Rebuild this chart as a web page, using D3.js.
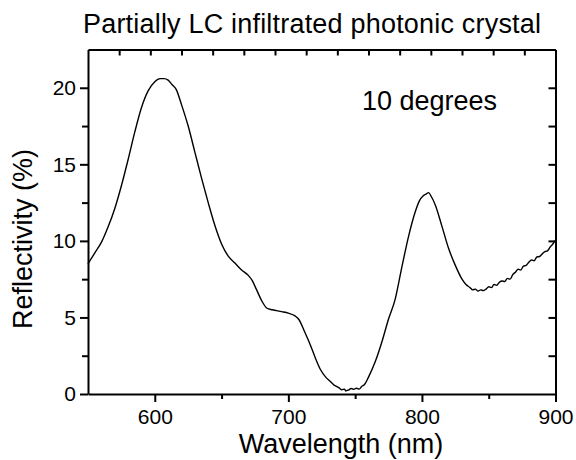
<!DOCTYPE html>
<html lang="en">
<head>
  <meta charset="UTF-8">
  <script src="https://cdn.jsdelivr.net/npm/d3@7"></script>
  <style>
    body { margin: 0; background: #fff; }
    svg { display: block; }
  </style>
</head>
<body>
<svg width="576" height="460"></svg>
<script>
  // wavelength (nm)
  const wavelength = [
    550, 555, 560, 565, 570, 575, 580, 585, 590, 595,
    600, 604, 607, 610, 613, 616, 620, 625, 630, 635,
    640, 645, 650, 655, 660, 665, 670, 673, 676, 680,
    684, 688, 695, 700, 705, 708, 712, 716, 720, 724,
    728, 731, 734, 736, 738, 740, 742, 743, 745, 747,
    749, 751, 753, 755, 757, 760, 765, 770, 775, 780,
    785, 790, 795, 798, 801, 803, 805, 807, 810, 815,
    820, 825, 830, 833, 836, 838, 840, 842, 844, 846,
    848, 850, 852, 854, 856, 858, 860, 862, 864, 866,
    868, 870, 872, 874, 876, 878, 880, 882, 884, 886,
    888, 890, 892, 894, 896, 898, 900
  ];
  // reflectivity (%)
  const reflectivity = [
    8.5, 9.2, 9.9, 10.9, 12.1, 13.6, 15.3, 17.1, 18.7, 19.8,
    20.4, 20.6, 20.6, 20.5, 20.2, 19.9, 18.9, 17.5, 15.8, 14.1,
    12.5, 11.0, 9.8, 9.0, 8.55, 8.1, 7.75, 7.4, 6.85, 6.1,
    5.6, 5.5, 5.38, 5.28, 5.1, 4.85, 4.1, 3.3, 2.4, 1.6,
    1.1, 0.85, 0.6, 0.5, 0.4, 0.28, 0.32, 0.2, 0.26, 0.36,
    0.3, 0.38, 0.32, 0.5, 0.62, 1.1, 2.1, 3.4, 4.9, 6.2,
    8.3, 10.3, 11.9, 12.6, 12.95, 13.05, 13.15, 12.9, 12.35, 10.95,
    9.5, 8.4, 7.5, 7.15, 6.95, 6.8, 6.85, 6.72, 6.8, 6.75,
    6.85, 7.0, 6.95, 7.15, 7.1, 7.3, 7.38, 7.35, 7.55, 7.5,
    7.8, 7.95, 8.15, 8.1, 8.35, 8.4, 8.6, 8.75, 8.7, 8.95,
    8.98, 9.15, 9.3, 9.35, 9.6, 9.8, 10.05
  ];
  const xMajor = [600, 700, 800, 900];
  const xMinor = [650, 750, 850];
  const yMajor = [0, 5, 10, 15, 20];
  const yMinor = [2.5, 7.5, 12.5, 17.5];
  const topTicks = d3.range(1, 15); // top frame: 15 equal divisions
  const rightTicks = [2.5, 5, 7.5, 10, 12.5, 15, 17.5, 20];

  const font = '"Liberation Sans", Arial, sans-serif';
  const svg = d3.select('svg');
  const m = { left: 88, right: 555.5, top: 49.5, bottom: 394 };

  const x = d3.scaleLinear().domain([550, 900]).range([m.left, m.right]);
  const y = d3.scaleLinear().domain([0, 22.5]).range([m.bottom, m.top]);
  const xTop = d3.scaleLinear().domain([0, 15]).range([m.left, m.right]);

  // give every axis piece explicit attributes instead of relying on css
  function styleAxis(g) {
    g.selectAll('path.domain').attr('stroke', '#000').attr('stroke-width', 2).attr('fill', 'none');
    g.selectAll('.tick line').attr('stroke', '#000').attr('stroke-width', 2).attr('x1', 0).attr('y1', 0);
    g.selectAll('.tick text').attr('fill', '#000').attr('font-size', 21).attr('font-family', font);
  }

  // bottom axis: minor ticks, then major ticks with labels
  svg.append('g')
    .attr('transform', `translate(0,${m.bottom})`)
    .call(d3.axisBottom(x).tickValues(xMinor).tickSizeInner(5).tickSizeOuter(0).tickFormat(''))
    .call(g => g.select('.domain').remove())
    .call(styleAxis);
  svg.append('g')
    .attr('transform', `translate(0,${m.bottom})`)
    .call(d3.axisBottom(x).tickValues(xMajor).tickSizeInner(8).tickSizeOuter(0).tickPadding(7))
    .call(styleAxis);

  // left axis
  svg.append('g')
    .attr('transform', `translate(${m.left},0)`)
    .call(d3.axisLeft(y).tickValues(yMinor).tickSizeInner(6).tickSizeOuter(0).tickFormat(''))
    .call(g => g.select('.domain').remove())
    .call(styleAxis);
  svg.append('g')
    .attr('transform', `translate(${m.left},0)`)
    .call(d3.axisLeft(y).tickValues(yMajor).tickSizeInner(8).tickSizeOuter(0).tickPadding(4))
    .call(styleAxis);

  // top axis, ticks inward
  svg.append('g')
    .attr('transform', `translate(0,${m.top})`)
    .call(d3.axisTop(xTop).tickValues(topTicks).tickSizeInner(-6).tickSizeOuter(0).tickFormat(''))
    .call(styleAxis);

  // right axis, ticks inward
  svg.append('g')
    .attr('transform', `translate(${m.right},0)`)
    .call(d3.axisRight(y).tickValues(rightTicks).tickSizeInner(-7).tickSizeOuter(0).tickFormat(''))
    .call(styleAxis);

  // curve
  const data = wavelength.map((w, i) => [w, reflectivity[i]]);
  svg.append('path')
    .datum(data)
    .attr('fill', 'none')
    .attr('stroke', '#000')
    .attr('stroke-width', 1.4)
    .attr('stroke-linejoin', 'round')
    .attr('d', d3.line().curve(d3.curveMonotoneX).x(d => x(d[0])).y(d => y(d[1])));

  // texts
  const label = (t) => t.attr('font-size', 27).attr('font-family', font).attr('fill', '#000');

  svg.append('text')
    .call(label)
    .attr('x', 312).attr('y', 33)
    .attr('text-anchor', 'middle')
    .attr('textLength', 458)
    .text('Partially LC infiltrated photonic crystal');

  svg.append('text')
    .call(label)
    .attr('x', 341).attr('y', 453)
    .attr('text-anchor', 'middle')
    .text('Wavelength (nm)');

  svg.append('text')
    .call(label)
    .attr('transform', 'translate(32,239) rotate(-90)')
    .attr('text-anchor', 'middle')
    .text('Reflectivity (%)');

  svg.append('text')
    .call(label)
    .attr('x', 362).attr('y', 110)
    .text('10 degrees');
</script>
</body>
</html>
